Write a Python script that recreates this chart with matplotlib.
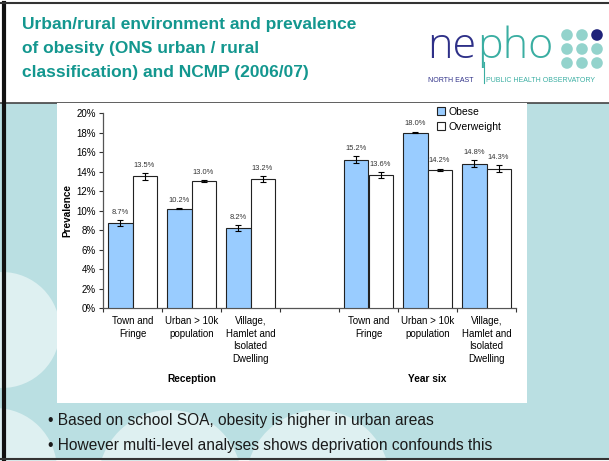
import matplotlib
matplotlib.use("Agg")
import matplotlib.pyplot as plt
import numpy as np
from matplotlib.patches import Rectangle, Circle
from matplotlib.transforms import blended_transform_factory

# ---- data ----
categories = ["Town and\nFringe", "Urban > 10k\npopulation", "Village,\nHamlet and\nIsolated\nDwelling", "",
              "Town and\nFringe", "Urban > 10k\npopulation", "Village,\nHamlet and\nIsolated\nDwelling"]
obese = [8.7, 10.2, 8.2, np.nan, 15.2, 18.0, 14.8]
overweight = [13.5, 13.0, 13.2, np.nan, 13.6, 14.2, 14.3]
obese_err = [0.3, 0.05, 0.3, np.nan, 0.35, 0.1, 0.35]
overweight_err = [0.35, 0.1, 0.3, np.nan, 0.3, 0.1, 0.35]
groups = ["Reception", "Year six"]
group_centers = [1, 5]
yticks = [0, 2, 4, 6, 8, 10, 12, 14, 16, 18, 20]
title_lines = ["Urban/rural environment and prevalence",
               "of obesity (ONS urban / rural",
               "classification) and NCMP (2006/07)"]
bullets = ["Based on school SOA, obesity is higher in urban areas",
           "However multi-level analyses shows deprivation confounds this"]

W, H = 609, 461
fig = plt.figure(figsize=(W / 100, H / 100), dpi=100)
fig.patch.set_facecolor("white")

# background axes in pixel coordinates
bg = fig.add_axes([0, 0, 1, 1])
bg.set_xlim(0, W)
bg.set_ylim(H, 0)
bg.axis("off")
bg.set_zorder(0)

teal = "#badfe2"
light = "#def0f1"
bg.add_patch(Rectangle((0, 103), W, 356, facecolor=teal, edgecolor="none"))
for (cx, cy, r) in [(2, 330, 58), (-5, 470, 62), (170, 482, 72), (318, 482, 72)]:
    bg.add_patch(Circle((cx, cy), r, facecolor=light, edgecolor="none"))
bg.plot([0, W], [103, 103], color="#444444", lw=1.2)
# chart white box
bg.add_patch(Rectangle((57, 103), 470, 300, facecolor="white", edgecolor="none", zorder=3))
# slide border
bg.plot([4, 4], [3, 459], color="#111111", lw=3, zorder=5)
bg.plot([0, W], [3, 3], color="#333333", lw=1.5, zorder=5)
bg.plot([0, W], [459, 459], color="#333333", lw=1.5, zorder=5)

# title
for k, line in enumerate(title_lines):
    bg.text(22, 25 + 24 * k, line, fontsize=12.5, fontweight="bold", color="#13978f",
            family="Liberation Sans", va="center", ha="left", zorder=6)

# logo
t_ne = bg.text(427, 58, "ne", fontsize=31, color="#2e3088", family="Open Sans",
               fontweight="light", va="baseline", ha="left", zorder=6)
fig.canvas.draw()
ext = t_ne.get_window_extent(renderer=fig.canvas.get_renderer())
x_after = bg.transData.inverted().transform((ext.x1, ext.y0))[0]
bg.text(x_after + 1, 58, "pho", fontsize=31, color="#3aaea2", family="Open Sans",
        fontweight="light", va="baseline", ha="left", zorder=6)
for i, cy in enumerate([35, 49, 63]):
    for j, cx in enumerate([567, 582, 597]):
        col = "#1f237a" if (i == 0 and j == 2) else "#93d3cc"
        bg.add_patch(Circle((cx, cy), 5.8, facecolor=col, edgecolor="none", zorder=6))
bg.text(428, 80, "NORTH EAST", fontsize=5.0, color="#2e3088", family="Liberation Sans",
        va="center", ha="left", zorder=6)
bg.plot([484, 484], [62, 83], color="#3aaea2", lw=0.8, zorder=6)
bg.text(486, 80, "PUBLIC HEALTH OBSERVATORY", fontsize=5.0, color="#3aaea2",
        family="Liberation Sans", va="center", ha="left", zorder=6)

# bullets
for k, txt in enumerate(bullets):
    bg.text(48, 420 + 25 * k, "\u2022 " + txt, fontsize=11.2, color="#1a1a1a",
            family="Liberation Sans", va="center", ha="left", zorder=6)

# chart axes
left, right, top, bottom = 103, 516, 113, 308
ax = fig.add_axes([left / W, (H - bottom) / H, (right - left) / W, (bottom - top) / H])
ax.set_zorder(2)
ax.patch.set_alpha(0)

x = np.arange(len(categories))
bw = 0.407
ax.bar(x - bw / 2, obese, bw, color="#99ccff", edgecolor="#222222", linewidth=0.8,
       label="Obese", zorder=3)
ax.bar(x + bw / 2, overweight, bw, color="white", edgecolor="#222222", linewidth=0.8,
       label="Overweight", zorder=3)
ax.errorbar(x - bw / 2, obese, yerr=obese_err, fmt="none", ecolor="black", elinewidth=0.8,
            capsize=2.5, capthick=0.8, zorder=4)
ax.errorbar(x + bw / 2, overweight, yerr=overweight_err, fmt="none", ecolor="black",
            elinewidth=0.8, capsize=2.5, capthick=0.8, zorder=4)
for xi, v, e in zip(x - bw / 2, obese, obese_err):
    if not np.isnan(v):
        ax.annotate(f"{v:.1f}%", (xi, v + e), xytext=(0, 3), textcoords="offset points",
                    ha="center", va="bottom", fontsize=5.4, color="#333333", family="Liberation Sans")
for xi, v, e in zip(x + bw / 2, overweight, overweight_err):
    if not np.isnan(v):
        ax.annotate(f"{v:.1f}%", (xi, v + e), xytext=(0, 3), textcoords="offset points",
                    ha="center", va="bottom", fontsize=5.4, color="#333333", family="Liberation Sans")

ax.set_xlim(-0.5, len(categories) - 0.5)
ax.set_ylim(0, 20)
ax.set_yticks(yticks)
ax.set_yticklabels([f"{t}%" for t in yticks], fontsize=7, family="Liberation Sans")
ax.set_xticks(x)
ax.set_xticklabels(categories, fontsize=7, family="Liberation Sans", linespacing=1.3, va="top")
ax.tick_params(axis="x", which="major", length=0, pad=6)
ax.set_xticks(np.arange(len(categories) + 1) - 0.5, minor=True)
ax.tick_params(axis="x", which="minor", length=3, width=0.8, direction="out", color="#333333")
ax.tick_params(axis="y", length=3, width=0.8, direction="out", color="#333333", pad=2)
for s in ["top", "right"]:
    ax.spines[s].set_visible(False)
for s in ["left", "bottom"]:
    ax.spines[s].set_color("#555555")
    ax.spines[s].set_linewidth(0.9)
ax.set_ylabel("Prevalence", fontsize=7.2, fontweight="bold", family="Liberation Sans", labelpad=3)

trans = blended_transform_factory(ax.transData, bg.transData)
for g, c in zip(groups, group_centers):
    ax.text(c, 379, g, transform=trans, fontsize=7.3, fontweight="bold", ha="center",
            va="center", family="Liberation Sans")

leg = ax.legend(loc="upper left", bbox_to_anchor=(0.785, 1.08), frameon=False,
                handlelength=0.8, handleheight=0.8, handletextpad=0.3, labelspacing=0.5,
                prop={"family": "Liberation Sans", "size": 7.5})

fig.savefig("out.png", dpi=100)
